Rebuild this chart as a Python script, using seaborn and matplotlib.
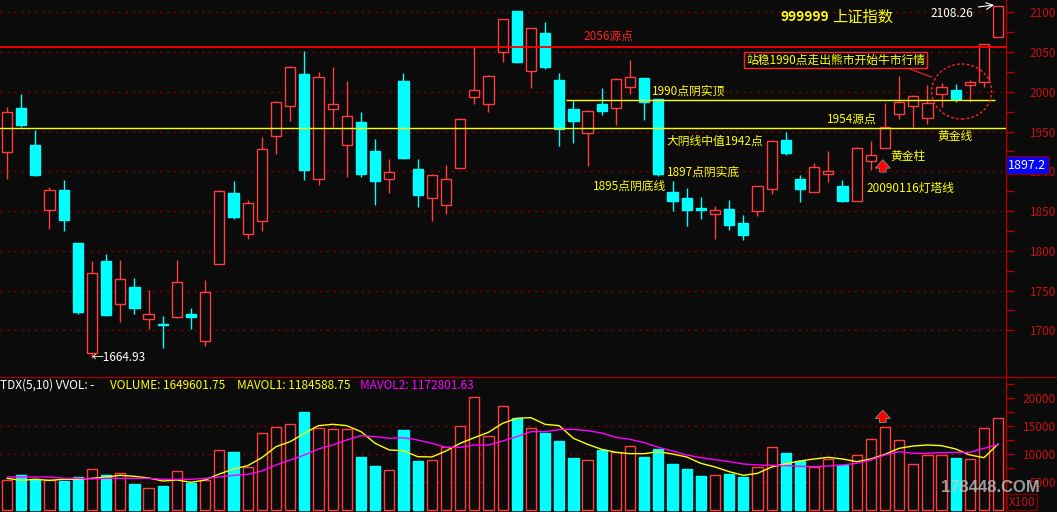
import matplotlib
matplotlib.use('Agg')
import matplotlib.pyplot as plt
import numpy as np
import pandas as pd
import seaborn as sns
from matplotlib.patches import Ellipse
from matplotlib.lines import Line2D

# daily candles (index 0 = leftmost bar)
opens = [1923.9, 1979.7, 1933.1, 1850.9, 1876.5, 1809.8, 1671.1, 1787.2, 1732.7, 1754.5,
         1713.8, 1708.0, 1716.3, 1720.5, 1686.1, 1783.0, 1872.7, 1820.7, 1837.1, 1944.0,
         1981.8, 2022.4, 1889.9, 1978.0, 1932.7, 1962.0, 1925.6, 1889.9, 2013.6, 1902.9,
         1866.0, 1857.2, 1903.8, 1993.1, 1984.3, 2049.7, 2101.7, 2025.8, 2074.0, 2014.9,
         1978.4, 1948.6, 1984.3, 1979.2, 2006.5, 2017.0, 1990.6, 1873.6, 1866.4, 1853.5,
         1845.9, 1852.2, 1834.6, 1849.7, 1878.2, 1939.0, 1889.9, 1874.4, 1897.0, 1881.5,
         1862.3, 1912.6, 1928.9, 1971.7, 1981.8, 1966.7, 1996.9, 2001.9, 2008.2, 2011.9,
         2068.6]
highs = [1980.9, 1997.3, 1952.0, 1880.3, 1889.1, 1809.8, 1787.2, 1796.0, 1788.5, 1765.8,
         1750.7, 1718.0, 1788.5, 1728.0, 1763.3, 1876.5, 1887.8, 1863.9, 1943.2, 1988.5,
         2032.5, 2051.4, 2025.0, 2031.2, 2013.6, 1974.6, 1940.7, 1915.5, 2023.7, 1915.5,
         1897.0, 1908.0, 1967.0, 2056.8, 2020.8, 2091.2, 2102.0, 2079.9, 2087.4, 2023.7,
         1989.7, 1977.2, 2004.4, 2017.4, 2040.0, 2017.0, 1990.6, 1887.8, 1879.0, 1867.7,
         1856.4, 1863.9, 1845.0, 1881.1, 1939.4, 1949.5, 1895.4, 1910.0, 1925.6, 1889.1,
         1930.6, 1938.2, 1986.0, 2019.9, 1995.5, 2008.2, 2011.5, 2009.8, 2014.5, 2060.6,
         2108.26]
lows = [1890.3, 1956.2, 1894.5, 1827.5, 1825.4, 1721.0, 1664.93, 1718.4, 1710.9, 1721.0,
        1701.7, 1678.2, 1716.0, 1701.7, 1680.7, 1783.0, 1840.5, 1815.3, 1825.4, 1922.2,
        1963.7, 1889.5, 1883.2, 1955.3, 1893.3, 1893.3, 1858.1, 1873.2, 1916.0, 1855.5,
        1838.0, 1846.7, 1903.8, 1985.1, 1975.0, 2038.0, 2036.7, 2005.2, 2029.1, 1932.3,
        1935.6, 1907.1, 1970.9, 1958.7, 1997.7, 1965.0, 1894.5, 1850.5, 1831.6, 1840.5,
        1815.3, 1826.6, 1814.0, 1844.2, 1871.9, 1921.0, 1861.8, 1874.4, 1886.6, 1861.4,
        1862.3, 1902.1, 1928.9, 1966.2, 1955.8, 1960.0, 1980.9, 1986.8, 1987.6, 2005.7,
        2068.6]
closes = [1974.2, 1958.7, 1895.8, 1876.1, 1839.2, 1723.5, 1771.7, 1719.7, 1764.1, 1728.5,
          1720.1, 1706.3, 1760.4, 1717.2, 1747.8, 1874.8, 1843.0, 1859.7, 1927.7, 1986.8,
          2030.8, 1902.1, 2018.2, 1984.3, 1969.2, 1897.0, 1888.3, 1898.7, 1917.2, 1870.6,
          1895.0, 1889.9, 1965.4, 2001.9, 2019.5, 2091.2, 2038.0, 2079.9, 2031.7, 1953.7,
          1963.7, 1975.5, 1976.3, 2015.7, 2019.1, 1987.6, 1897.0, 1863.1, 1851.8, 1851.8,
          1850.9, 1832.9, 1820.3, 1881.1, 1937.7, 1923.5, 1877.8, 1905.0, 1900.0, 1862.7,
          1929.3, 1920.1, 1955.8, 1987.2, 1994.8, 1985.5, 2005.7, 1991.4, 2011.9, 2060.6,
          2108.26]

# volume (x100) and its two moving averages as drawn
volumes = [5358, 6305, 5590, 5358, 5233, 5947, 7322, 6305, 6608, 4697,
           3929, 4340, 6965, 4876, 5358, 10716, 10412, 7680, 13752, 14824,
           15360, 17556, 14645, 14467, 14467, 9519, 7912, 7144, 14342, 8805,
           8930, 11252, 15003, 20182, 13216, 18574, 16538, 14645, 13806, 12431,
           9341, 8930, 10770, 10359, 11430, 9519, 10948, 8269, 7376, 6126,
           6251, 6537, 5947, 7680, 11252, 10234, 8805, 7787, 9109, 8037,
           9823, 12681, 14824, 12502, 8215, 9823, 9823, 9341, 9109, 14645,
           16496]
mavol1 = [5710, 5353, 5532, 5353, 5532, 5532, 5710, 5948, 6246, 6068,
          5770, 5234, 5413, 4996, 5413, 6484, 7377, 7973, 9401, 11366,
          12259, 13747, 15116, 15355, 15116, 14045, 11961, 10771, 10652, 9580,
          9521, 10592, 11961, 12973, 13926, 15533, 16426, 16545, 15355, 15116,
          12854, 11783, 10890, 10354, 10116, 10116, 10473, 10057, 9521, 8390,
          7735, 6901, 6246, 6603, 7735, 8330, 8806, 9163, 9461, 9163,
          8687, 9163, 9997, 11068, 11485, 11664, 11545, 10950, 9878, 9402,
          11846]
mavol2 = [5948, 5948, 5948, 5948, 5710, 5710, 5591, 5710, 5710, 5710,
          5710, 5532, 5532, 5532, 5710, 5948, 6246, 6425, 7020, 8092,
          8985, 9878, 10950, 11664, 12557, 13331, 13152, 12854, 12973, 12557,
          11961, 11247, 11247, 11664, 11664, 12378, 13152, 14045, 14045, 14402,
          14462, 14224, 13807, 13033, 12676, 12080, 11247, 10592, 9878, 9402,
          9045, 8687, 8270, 8092, 8032, 7973, 7853, 7794, 7913, 8092,
          8390, 8985, 9878, 10473, 10175, 10175, 10294, 10354, 10354, 11068,
          11728]

price_ticks = [1700, 1750, 1800, 1850, 1900, 1950, 2000, 2050, 2100]
vol_ticks = [5000, 10000, 15000, 20000]

BG = '#0b0b0b'
RED = '#ff3d3d'
CYAN = '#00ffff'
YELLOW = '#ffff00'
MAGENTA = '#ff00ff'
AXRED = '#b00000'
GRID = '#8c0000'
W, H = 1057, 512

sns.set_theme(style='dark', rc={'axes.facecolor': BG, 'figure.facecolor': BG,
                                'savefig.facecolor': BG})
plt.rcParams['font.family'] = ['Noto Sans CJK SC', 'DejaVu Sans']
plt.rcParams['axes.unicode_minus'] = False

df = pd.DataFrame({'open': opens, 'high': highs, 'low': lows, 'close': closes,
                   'vol': volumes, 'ma5': mavol1, 'ma10': mavol2})
df['idx'] = np.arange(len(df))
df['up'] = df['close'] >= df['open']
edge = np.where(df['up'], RED, CYAN)
face = np.where(df['up'], BG, CYAN)

fig = plt.figure(figsize=(W / 100, H / 100), dpi=100)
ax = fig.add_axes([0, 1 - 377 / H, 1006 / W, 377 / H])
axv = fig.add_axes([0, 0, 1006 / W, 135 / H])

# candles
ax.vlines(df['idx'], df['low'], df['high'], colors=edge, lw=1, zorder=2)
body_bot = np.minimum(df['open'], df['close'])
body_h = np.maximum((df['close'] - df['open']).abs(), 1.2)
ax.bar(df['idx'], body_h, bottom=body_bot, width=0.72, color=face,
       edgecolor=edge, linewidth=1, zorder=3)

for p in price_ticks:
    ax.axhline(p, color=GRID, lw=1, ls=(0, (1.5, 3.5)), zorder=1)

ax.axhline(2056, color='#ff0000', lw=1.3, zorder=5)
ax.axhline(1954, color=YELLOW, lw=1, zorder=5)
ax.hlines(1990, 39.5, 69.8, color=YELLOW, lw=1, zorder=5)

tkw = dict(va='center', ha='left', fontsize=8.5, zorder=6)
ax.text(40.7, 2069.4, '2056源点', color='#ff2020', **tkw)
ax.text(54.6, 2093.7, '999999', color=YELLOW, fontsize=10, fontweight='bold',
        va='center', ha='left', zorder=6)
ax.text(58.3, 2093.7, '上证指数', color=YELLOW, fontsize=11, va='center', ha='left', zorder=6)
ax.text(65.2, 2098.8, '2108.26', color='white', **tkw)
ax.annotate('', xy=(69.9, 2109.6), xytext=(68.4, 2106.3),
            arrowprops=dict(arrowstyle='->', color='white', lw=0.8), zorder=6)
ax.text(52.2, 2040, '站稳1990点走出熊市开始牛市行情', color=YELLOW,
        bbox=dict(boxstyle='square,pad=0.15', fc=BG, ec='#ff2020', lw=1), **tkw)
ax.annotate('', xy=(65.5, 2017.3), xytext=(63.6, 2029.8),
            arrowprops=dict(arrowstyle='-', color='#ff2020', lw=0.8), zorder=6)
ax.add_patch(Ellipse((67.42, 2000.4), 4.24, 69.2, fill=False, ec='#ff2020',
                     lw=1, ls=(0, (2, 1.5)), zorder=6))
ax.text(45.55, 2001, '1990点阴实顶', color=YELLOW, **tkw)
ax.text(46.6, 1937.3, '大阴线中值1942点', color=YELLOW, **tkw)
ax.text(46.6, 1898.8, '1897点阴实底', color=YELLOW, **tkw)
ax.text(41.4, 1881.9, '1895点阴底线', color=YELLOW, **tkw)
ax.text(57.9, 1965.8, '1954源点', color=YELLOW, **tkw)
ax.text(65.7, 1944.4, '黄金线', color=YELLOW, **tkw)
ax.text(62.4, 1919.3, '黄金柱', color=YELLOW, **tkw)
ax.text(60.7, 1878.6, '20090116灯塔线', color=YELLOW, **tkw)
ax.text(5.98, 1665.6, '←1664.93', color='white', **tkw)

arrow_kw = dict(arrowstyle='simple,head_length=0.5,head_width=0.9,tail_width=0.4',
                fc='#ff0000', ec='#8a8a8a', lw=0.6, mutation_scale=12,
                shrinkA=0, shrinkB=0)
ax.annotate('', xy=(61.85, 1914.5), xytext=(61.85, 1899.0), arrowprops=arrow_kw, zorder=6)

# volume panel
axv.bar(df['idx'], df['vol'], width=0.72, color=face, edgecolor=edge,
        linewidth=1, zorder=3)
sns.lineplot(x=df['idx'], y=df['ma5'], ax=axv, color=YELLOW, lw=1, zorder=4)
sns.lineplot(x=df['idx'], y=df['ma10'], ax=axv, color=MAGENTA, lw=1, zorder=4)
for v in (5000, 10000, 15000):
    axv.axhline(v, color=GRID, lw=1, ls=(0, (1.5, 3.5)), zorder=1)
axv.annotate('', xy=(61.85, 17900), xytext=(61.85, 15700), arrowprops=arrow_kw, zorder=6)

for a in (ax, axv):
    a.set_facecolor(BG)
    a.grid(False)
    a.set_xlim(-0.494, 70.55)
    a.set_xticks([])
    a.set_xlabel('')
    a.set_ylabel('')
    for s in ('top', 'left', 'bottom'):
        a.spines[s].set_visible(False)
    a.spines['right'].set_color(AXRED)
    a.spines['right'].set_linewidth(1)
    a.yaxis.tick_right()

ax.set_ylim(1641.3, 2115.5)
ax.set_yticks(price_ticks)
ax.set_yticklabels([str(p) for p in price_ticks], ha='right')
ax.set_yticks([p + 25 for p in price_ticks[:-1]], minor=True)

axv.set_ylim(-304, 23807)
axv.set_yticks(vol_ticks)
axv.set_yticklabels([str(v) for v in vol_ticks], ha='right')
axv.set_yticks([2500, 7500, 12500, 17500, 22500], minor=True)

for a in (ax, axv):
    a.tick_params(axis='y', which='both', right=True, left=False, direction='out',
                  length=6, width=1, color=AXRED, labelcolor='#c81010',
                  labelsize=8.5, pad=30)

# separator between panels
fig.add_artist(Line2D([0, 1], [1 - 377 / H] * 2, transform=fig.transFigure,
                      color='#a00000', lw=1))

# volume header
hy = 1 - 385.5 / H
fig.text(0.5 / W, hy, 'TDX(5,10) VVOL: -', color='white', fontsize=8.5, va='center')
fig.text(110 / W, hy, 'VOLUME: 1649601.75', color=YELLOW, fontsize=8.5, va='center')
fig.text(237 / W, hy, 'MAVOL1: 1184588.75', color=YELLOW, fontsize=8.5, va='center')
fig.text(360 / W, hy, 'MAVOL2: 1172801.63', color=MAGENTA, fontsize=8.5, va='center')

# current price box and unit box
fig.text(1008 / W, 1 - 165.3 / H, '1897.2', color='white', fontsize=9, va='center',
         bbox=dict(boxstyle='square,pad=0.2', fc='#0000ff', ec='#800000', lw=1))
fig.text(1009 / W, 1 - 502 / H, 'X100', color='#c81010', fontsize=8.5, va='center',
         bbox=dict(boxstyle='square,pad=0.15', fc=BG, ec='#800000', lw=1))

fig.text(990 / W, 1 - 487 / H, '178448.COM', color='#c8c8c8', alpha=0.75,
         fontsize=12, fontweight='bold', family='Liberation Sans',
         ha='center', va='center')

fig.savefig('out.png', dpi=100, facecolor=BG)
